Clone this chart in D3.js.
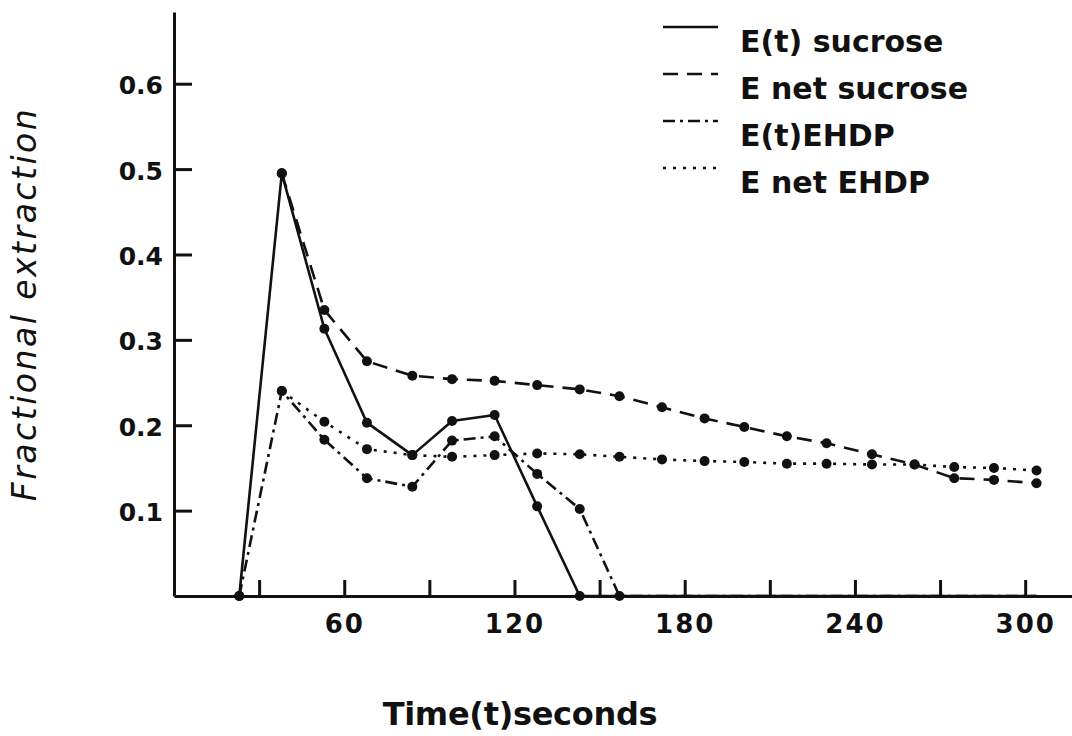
<!DOCTYPE html>
<html>
<head>
<meta charset="utf-8">
<script src="https://cdn.jsdelivr.net/npm/d3@7"></script>
<style>
  html, body { margin: 0; padding: 0; background: #fff; }
  svg { display: block; }
  text { fill: #111; font-family: "DejaVu Sans", sans-serif; }
</style>
</head>
<body>
<svg id="chart" width="1072" height="736"></svg>
<script>
// sampling times (s)
const times = [23, 38, 53, 68, 84, 98, 113, 128, 143, 157, 172, 187, 201, 216, 230, 246, 261, 275, 289, 304];

// E(t) sucrose - solid
const etSucrose = [0, 0.495, 0.313, 0.203, 0.165, 0.205, 0.212, 0.105, 0, 0, 0, 0, 0, 0, 0, 0, 0, 0, 0, 0];
// E net sucrose - dashed
const enetSucrose = [null, 0.495, 0.335, 0.275, 0.258, 0.254, 0.252, 0.247, 0.242, 0.234, 0.221, 0.208, 0.198, 0.187, 0.179, 0.166, 0.154, 0.138, 0.136, 0.132];
// E(t) EHDP - dash-dot
const etEHDP = [0, 0.240, 0.183, 0.138, 0.128, 0.182, 0.187, 0.143, 0.102, 0, 0, 0, 0, 0, 0, 0, 0, 0, 0, 0];
// E net EHDP - dotted
const enetEHDP = [null, 0.240, 0.204, 0.172, 0.165, 0.163, 0.165, 0.167, 0.166, 0.163, 0.160, 0.158, 0.157, 0.155, 0.155, 0.154, 0.154, 0.151, 0.150, 0.147];

const seriesNames = ['E(t) sucrose', 'E net sucrose', 'E(t)EHDP', 'E net EHDP'];
const seriesValues = [etSucrose, enetSucrose, etEHDP, enetEHDP];
const dashes = [null, '15,9', '12,5,3,5', '3,7'];

const yTicks = [0.1, 0.2, 0.3, 0.4, 0.5, 0.6];
const xTicks = [30, 60, 90, 120, 150, 180, 210, 240, 270, 300];
const xLabels = [60, 120, 180, 240, 300];

const svg = d3.select('#chart');
const x = d3.scaleLinear().domain([0, 316.5]).range([174, 1072]);
const y = d3.scaleLinear().domain([0, 0.684]).range([596, 12]);

// axes
const yAxis = d3.axisLeft(y).tickValues(yTicks).tickFormat(d3.format('.1f'))
  .tickSizeInner(-18).tickSizeOuter(0).tickPadding(11);
const gy = svg.append('g').attr('transform', `translate(${x(0)},0)`).call(yAxis);
gy.selectAll('text').style('font-size', '25px').style('font-weight', 'bold').attr('dy', '0.4em');

const xAxis = d3.axisBottom(x).tickValues(xTicks)
  .tickFormat(d => xLabels.includes(d) ? d : '')
  .tickSizeInner(-16).tickSizeOuter(0).tickPadding(19);
const gx = svg.append('g').attr('transform', `translate(0,${y(0)})`).call(xAxis);
gx.selectAll('text').style('font-size', '26px').style('font-weight', 'bold').style('letter-spacing', '2px');

svg.selectAll('.domain').attr('stroke', '#111').attr('stroke-width', 3);
svg.selectAll('.tick line').attr('stroke', '#111').attr('stroke-width', 3);
svg.selectAll('.tick text').attr('fill', '#111');

// series
const line = d3.line()
  .defined(d => d.v !== null)
  .x(d => x(d.t)).y(d => y(d.v));

const gData = svg.append('g');
seriesValues.forEach((vals, i) => {
  const pts = times.map((t, j) => ({ t, v: vals[j] }));
  gData.append('path')
    .datum(pts)
    .attr('d', line)
    .attr('fill', 'none')
    .attr('stroke', '#111')
    .attr('stroke-width', 2.6)
    .attr('stroke-linejoin', 'round')
    .attr('stroke-dasharray', dashes[i]);
  // dots: skip the long run of zeros resting on the axis
  const shown = pts.filter((d, j) => d.v !== null &&
    (d.v > 0 || (vals[j - 1] || 0) > 0 || (vals[j + 1] || 0) > 0 || j === 0));
  gData.selectAll(null).data(shown).join('circle')
    .attr('cx', d => x(d.t)).attr('cy', d => y(d.v))
    .attr('r', 5).attr('fill', '#111');
});

// legend
const legend = svg.append('g');
seriesNames.forEach((name, i) => {
  const base = 52 + i * 47;
  legend.append('line')
    .attr('x1', 663).attr('x2', 718)
    .attr('y1', base - 25).attr('y2', base - 25)
    .attr('stroke', '#111').attr('stroke-width', 2.6)
    .attr('stroke-dasharray', dashes[i]);
  legend.append('text')
    .attr('x', 740).attr('y', base)
    .style('font-size', '30px').style('font-weight', 'bold')
    .text(name);
});

// axis titles
svg.append('text')
  .attr('x', 520).attr('y', 725)
  .attr('text-anchor', 'middle')
  .style('font-size', '32px').style('font-weight', 'bold').style('letter-spacing', '-0.3px')
  .text('Time(t)seconds');

svg.append('text')
  .attr('transform', 'translate(36,304) rotate(-90)')
  .attr('text-anchor', 'middle')
  .style('font-size', '33px').style('font-style', 'italic').style('letter-spacing', '2.5px')
  .text('Fractional extraction');
</script>
</body>
</html>
